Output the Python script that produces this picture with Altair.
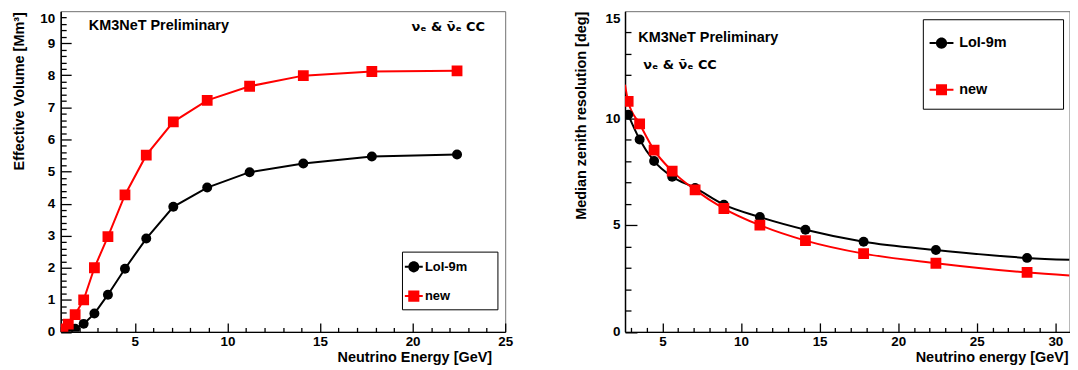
import altair as alt
import pandas as pd

FONT = "Liberation Sans"
SERIES = ["LoI-9m", "new"]
COLORS = ["#000000", "#ff0000"]

# ---- left panel: effective volume ----
E_VOL = [1.12, 1.41, 1.78, 2.24, 2.82, 3.55, 4.47, 5.62, 7.08, 8.91, 11.2, 14.1, 17.8, 22.4]
VOL_LOI = [0.01, 0.04, 0.10, 0.25, 0.57, 1.16, 1.97, 2.91, 3.90, 4.50, 4.98, 5.25, 5.47, 5.53]
VOL_NEW = [0.09, 0.24, 0.54, 1.00, 2.00, 2.97, 4.27, 5.51, 6.55, 7.22, 7.66, 7.99, 8.12, 8.14]

# ---- right panel: median zenith resolution ----
E_RES = [2.82, 3.55, 4.47, 5.62, 7.08, 8.91, 11.2, 14.1, 17.8, 22.4, 28.2]
RES_LOI = [10.16, 9.00, 7.99, 7.26, 6.73, 5.95, 5.37, 4.78, 4.22, 3.83, 3.46]
RES_NEW = [10.78, 9.73, 8.50, 7.52, 6.64, 5.77, 4.99, 4.27, 3.66, 3.21, 2.78]
# where the drawn curves meet the frame
E_RES_EDGE = [2.62, 30.9]
RES_LOI_EDGE_RIGHT = 3.37
RES_NEW_EDGE_LEFT = 11.56
RES_NEW_EDGE_RIGHT = 2.64

ANNOT_TITLE = "KM3NeT Preliminary"
ANNOT_CHANNEL = "\u03bd\u2091 & \u03bd\u0304\u2091 CC"

vol_rows = []
for s, vals in zip(SERIES, [VOL_LOI, VOL_NEW]):
    for e, v in zip(E_VOL, vals):
        vol_rows.append({"E": e, "V": v, "series": s})
vol_df = pd.DataFrame(vol_rows)

res_rows = []
for s, vals in zip(SERIES, [RES_LOI, RES_NEW]):
    for e, v in zip(E_RES, vals):
        res_rows.append({"E": e, "V": v, "series": s})
res_pts = pd.DataFrame(res_rows)
edge_rows = [
    {"E": E_RES_EDGE[1], "V": RES_LOI_EDGE_RIGHT, "series": SERIES[0]},
    {"E": E_RES_EDGE[0], "V": RES_NEW_EDGE_LEFT, "series": SERIES[1]},
    {"E": E_RES_EDGE[1], "V": RES_NEW_EDGE_RIGHT, "series": SERIES[1]},
]
res_line = pd.concat([res_pts, pd.DataFrame(edge_rows)], ignore_index=True)

W, H = 447, 322.5
color_scale = alt.Scale(domain=SERIES, range=COLORS)

LABEL_STYLE = dict(labelFont=FONT, labelFontWeight="bold", labelColor="black",
                   labelFlush=False, labelOverlap=False)


def axis_set(orient, major, minor, major_len, minor_len, label_pad, title, tx, ty, lsize, tsize):
    dom = alt.Axis(orient=orient, domain=True, domainColor="black", domainWidth=1.5,
                   ticks=False, labels=False, title=None, grid=False)
    maj = alt.Axis(orient=orient, values=major, domain=False, ticks=True, tickSize=major_len,
                   tickWidth=1.3, tickColor="black", offset=-major_len, labels=True,
                   labelPadding=label_pad, labelFontSize=lsize, **LABEL_STYLE,
                   title=title, titleX=tx, titleY=ty,
                   titleAlign="right", titleBaseline="middle", titleFontSize=tsize,
                   titleFont=FONT, titleFontWeight="bold", titleColor="black",
                   titleAngle=(270 if orient == "left" else 0), grid=False)
    mnr = alt.Axis(orient=orient, values=minor, domain=False, ticks=True, tickSize=minor_len,
                   tickWidth=1.3, tickColor="black", offset=-minor_len, labels=False,
                   title=None, grid=False)
    return dom, maj, mnr


def top_label_axis(value, major_len, label_pad, lsize):
    return alt.Axis(orient="left", values=[value], domain=False, ticks=True,
                    tickSize=major_len, tickOpacity=0, offset=-major_len, labels=True,
                    labelPadding=label_pad, labelFontSize=lsize, labelBaseline="top",
                    **LABEL_STYLE, title=None, grid=False)


def sym_path(kind, half, bar):
    stub = f"M-1,-{bar}H-{half}V{bar}H-1Z M{half},-{bar}H1V{bar}H{half}Z"
    if kind == "circle":
        body = f"M-{half},0A{half},{half},0,1,1,{half},0A{half},{half},0,1,1,-{half},0Z"
    else:
        body = f"M-{half},-{half}H{half}V{half}H-{half}Z"
    return body + " " + stub


def panel(line_df, pts_df, xdom, ydom, xaxes, yaxes, ytop_axis, interp, legend, legend_paths, texts):
    xs = alt.Scale(domain=xdom, nice=False, zero=False)
    ys = alt.Scale(domain=ydom, nice=False, zero=False)
    xd, xm, xn = xaxes
    yd, ym, yn = yaxes
    is_a = alt.datum.series == SERIES[0]
    is_b = alt.datum.series == SERIES[1]
    l1 = alt.Chart(line_df).transform_filter(is_a).mark_line(
        strokeWidth=2, clip=True, interpolate=interp, color=COLORS[0]
    ).encode(x=alt.X("E:Q", scale=xs, axis=xd), y=alt.Y("V:Q", scale=ys, axis=yd))
    l2 = alt.Chart(line_df).transform_filter(is_b).mark_line(
        strokeWidth=2, clip=True, interpolate=interp, color=COLORS[1]
    ).encode(x=alt.X("E:Q", scale=xs, axis=None), y=alt.Y("V:Q", scale=ys, axis=None))
    p1 = alt.Chart(pts_df).transform_filter(is_a).mark_point(
        shape="circle", filled=True, size=100, opacity=1, color=COLORS[0], clip=True
    ).encode(x=alt.X("E:Q", scale=xs, axis=xm), y=alt.Y("V:Q", scale=ys, axis=ym))
    p2 = alt.Chart(pts_df).transform_filter(is_b).mark_point(
        shape="square", filled=True, size=118, opacity=1, color=COLORS[1], clip=True
    ).encode(x=alt.X("E:Q", scale=xs, axis=None), y=alt.Y("V:Q", scale=ys, axis=ytop_axis))
    leg = alt.Chart(pts_df).transform_filter("datum.E < 0").mark_point(
        filled=True, opacity=1
    ).encode(
        x=alt.X("E:Q", scale=xs, axis=xn),
        y=alt.Y("V:Q", scale=ys, axis=yn),
        color=alt.Color("series:N", scale=color_scale, legend=legend),
        shape=alt.Shape("series:N", scale=alt.Scale(domain=SERIES, range=legend_paths), legend=legend),
    )
    layers = [l1, l2, p1, p2, leg]
    for txt, px, py, fnt, fsz in texts:
        layers.append(
            alt.Chart(pd.DataFrame({"t": [txt]})).mark_text(
                font=fnt, fontWeight="bold", fontSize=fsz, align="left",
                baseline="middle", color="black"
            ).encode(x=alt.value(px), y=alt.value(py), text="t:N")
        )
    return alt.layer(*layers).resolve_axis(x="independent", y="independent").properties(
        width=W, height=H
    )


# left panel axes
left_x = axis_set("bottom", [5, 10, 15, 20, 25], [k for k in range(2, 25) if k % 5],
                  9, 4.5, 3, "Neutrino Energy [GeV]", 433.3, 35, 13.5, 14.5)
left_y = axis_set("left", list(range(0, 10)),
                  [round(k * 0.2, 1) for k in range(1, 50) if k % 5],
                  10.5, 5.5, 6, "Effective Volume [Mm\u00b3]", -52.3, 0.5, 13.5, 14.5)
left_top = top_label_axis(10, 10.5, 6, 13.5)
right_x = axis_set("bottom", [5, 10, 15, 20, 25, 30], [k for k in range(3, 31) if k % 5],
                   9, 4.5, 3, "Neutrino energy [GeV]", 445.6, 35, 13.5, 14.5)
right_y = axis_set("left", [0, 5, 10], [k for k in range(1, 15) if k % 5],
                   12, 6, 5, "Median zenith resolution [deg]", -56.2, 0, 13.5, 14.5)
right_top = top_label_axis(15, 12, 5, 13.5)

LEG_COMMON = dict(orient="none", title=" ", titleOrient="right",
                  labelFont=FONT, labelFontWeight="bold", labelColor="black",
                  fillColor="white", strokeColor="black", symbolStrokeWidth=0,
                  symbolOpacity=1, cornerRadius=0)
leg_left = alt.Legend(legendX=343.2, legendY=241.8, titlePadding=23.6, padding=6.3,
                      rowPadding=13.4, symbolSize=324, symbolOffset=-3.4, labelOffset=2.2,
                      labelFontSize=13, **LEG_COMMON)
leg_right = alt.Legend(legendX=299.5, legendY=8.1, titlePadding=45, padding=12,
                       rowPadding=28, symbolSize=576, symbolOffset=-5.2, labelOffset=5.8,
                       labelFontSize=14.5, **LEG_COMMON)

paths_left = [sym_path("circle", 0.62, 0.11), sym_path("square", 0.62, 0.11)]
paths_right = [sym_path("circle", 0.47, 0.083), sym_path("square", 0.46, 0.083)]

left = panel(vol_df, vol_df, [1, 25], [0, 10], left_x, left_y, left_top, "linear",
             leg_left, paths_left,
             [(ANNOT_TITLE, 28.3, 15.1, FONT, 14.5),
              (ANNOT_CHANNEL, 352.7, 15.8, "DejaVu Sans", 13)])
right = panel(res_line, res_pts, E_RES_EDGE, [0, 15], right_x, right_y, right_top, "monotone",
              leg_right, paths_right,
              [(ANNOT_TITLE, 13.3, 26.8, FONT, 14.5),
               (ANNOT_CHANNEL, 18.3, 54.1, "DejaVu Sans", 13)])

chart = alt.hconcat(left, right, spacing=120.5, bounds="flush").resolve_scale(
    color="independent", shape="independent"
).configure(
    padding={"left": 2, "top": 1.2, "right": 0, "bottom": 0}, font=FONT
).configure_view(stroke="#707070", strokeWidth=1)

chart.save("out.html", embed_options={"renderer": "svg", "actions": False})
